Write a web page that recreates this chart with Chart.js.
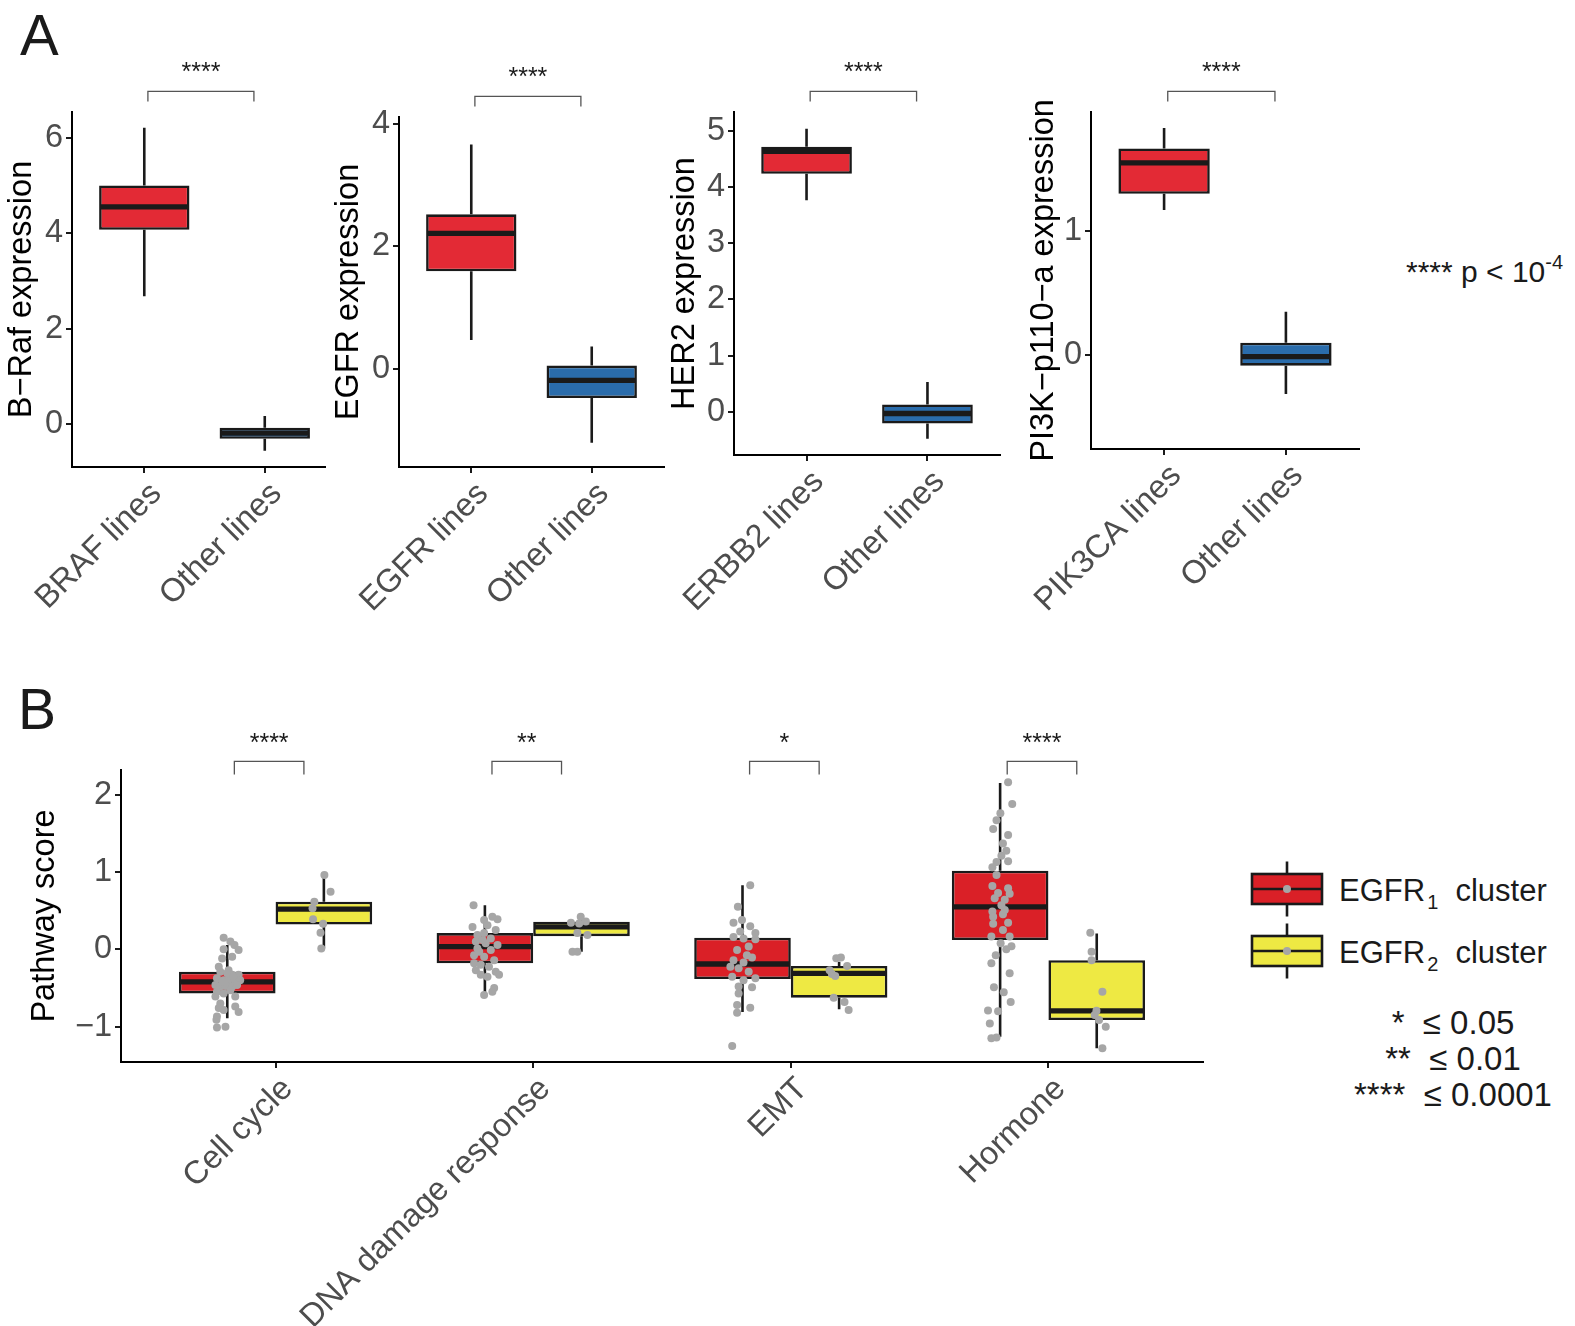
<!DOCTYPE html>
<html>
<head>
<meta charset="utf-8">
<script src="https://cdn.jsdelivr.net/npm/chart.js@4.4.1/dist/chart.umd.min.js"></script>
<style>
  body { margin: 0; background: #fff; }
  #fig { position: relative; width: 1575px; height: 1326px; overflow: hidden; font-family: 'Liberation Sans', Arial, sans-serif; }
  canvas { position: absolute; }
  .txt { position: absolute; line-height: 1; white-space: pre; color: #1a1a1a; }
  .sub { font-size: 20px; position: relative; top: 8px; margin-left: 2px; }
  .sup { font-size: 20px; position: relative; top: -13px; }
</style>
</head>
<body>
<div id="fig">
  <div class="txt" style="left:20px;top:6px;font-size:58px">A</div>
  <div class="txt" style="left:18px;top:681px;font-size:57px">B</div>
  <div class="txt" style="left:1406px;top:257px;font-size:30px">**** p &lt; 10<span class="sup">-4</span></div>
  <div class="txt" style="left:1339px;top:875px;font-size:31px">EGFR<span class="sub">1</span>  cluster</div>
  <div class="txt" style="left:1339px;top:937px;font-size:31px">EGFR<span class="sub">2</span>  cluster</div>
  <div class="txt" style="left:1303px;top:1005px;width:300px;text-align:center;font-size:33px;line-height:36px">*  ≤ 0.05
**  ≤ 0.01
****  ≤ 0.0001</div>
  <canvas id="a1"></canvas>
  <canvas id="a2"></canvas>
  <canvas id="a3"></canvas>
  <canvas id="a4"></canvas>
  <canvas id="b"></canvas>
</div>
<script>
// box stats: [lower whisker, Q1, median, Q3, upper whisker]
const brafLabels = ['BRAF lines', 'Other lines'];
const brafBoxes = [[2.68, 4.07, 4.55, 5.0, 6.21], [-0.56, -0.31, -0.19, -0.08, 0.17]];
const brafTicks = [0, 2, 4, 6];

const egfrLabels = ['EGFR lines', 'Other lines'];
const egfrBoxes = [[0.47, 1.59, 2.21, 2.52, 3.66], [-1.21, -0.48, -0.19, 0.05, 0.36]];
const egfrTicks = [0, 2, 4];

const erbb2Labels = ['ERBB2 lines', 'Other lines'];
const erbb2Boxes = [[3.76, 4.23, 4.63, 4.71, 5.03], [-0.48, -0.21, -0.03, 0.13, 0.53]];
const erbb2Ticks = [0, 1, 2, 3, 4, 5];

const pik3caLabels = ['PIK3CA lines', 'Other lines'];
const pik3caBoxes = [[1.17, 1.30, 1.55, 1.667, 1.833], [-0.32, -0.09, -0.016, 0.096, 0.346]];
const pik3caTicks = [0, 1];

const pathways = ['Cell cycle', 'DNA damage response', 'EMT', 'Hormone'];
const egfr1Boxes = [[-0.89, -0.57, -0.42, -0.29, 0.055], [-0.57, -0.18, 0.035, 0.21, 0.57],
                    [-0.81, -0.385, -0.19, 0.15, 0.83], [-1.13, 0.12, 0.55, 1.017, 2.15]];
const egfr2Boxes = [[0.015, 0.32, 0.52, 0.615, 0.96], [-0.03, 0.17, 0.29, 0.357, 0.42],
                    [-0.775, -0.625, -0.31, -0.215, -0.16], [-1.28, -0.915, -0.795, -0.14, 0.205]];
const scoreTicks = [-1, 0, 1, 2];
const pathwaySig = ['****', '**', '*', '****'];

// grey dots: [jitter, score]
const egfr1CellCycle = [[-0.014,0.15],[0.012,0.10],[0.028,0.055],[0.044,-0.01],[-0.014,0.0],[0.019,-0.095],[-0.02,-0.12],
  [-0.033,-0.225],[-0.027,-0.29],[0.005,-0.27],[0.019,-0.33],[0.044,-0.33],[-0.04,-0.375],[-0.014,-0.40],[0.005,-0.40],
  [0.031,-0.42],[0.05,-0.40],[-0.046,-0.46],[-0.027,-0.48],[-0.007,-0.475],[0.019,-0.48],[0.038,-0.46],[-0.04,-0.55],
  [-0.014,-0.57],[0.012,-0.53],[0.031,-0.61],[-0.046,-0.61],[-0.027,-0.70],[-0.033,-0.76],[-0.014,-0.785],[0.031,-0.74],
  [0.044,-0.81],[-0.04,-0.87],[-0.042,-0.91],[-0.04,-1.01],[-0.007,-1.0],[0.0,-0.31],[0.023,-0.35],[-0.02,-0.42]];
const egfr2CellCycle = [[0.002,0.96],[0.026,0.745],[-0.037,0.615],[-0.044,0.53],[-0.042,0.39],[-0.003,0.33],[-0.013,0.215],[-0.01,0.01]];
const egfr1Dna = [[-0.044,0.57],[-0.003,0.38],[0.029,0.42],[0.049,0.39],[-0.048,0.29],[0.01,0.31],[0.042,0.25],[-0.029,0.185],
  [-0.003,0.21],[0.023,0.14],[-0.035,0.10],[0.003,0.08],[0.049,0.055],[-0.029,0.01],[0.023,-0.01],[-0.042,-0.075],
  [-0.003,-0.095],[0.036,-0.14],[-0.042,-0.18],[-0.016,-0.20],[0.016,-0.225],[-0.035,-0.27],[0.042,-0.29],[-0.016,-0.33],
  [0.055,-0.33],[0.01,-0.355],[0.036,-0.50],[0.029,-0.55],[-0.003,-0.59],[-0.022,-0.03],[-0.009,0.12]];
const egfr2Dna = [[-0.041,0.345],[-0.003,0.42],[0.017,0.36],[-0.009,0.335],[-0.016,0.21],[0.023,0.185],[-0.035,-0.03],[-0.016,-0.03]];
const egfr1Emt = [[0.03,0.83],[-0.018,0.55],[-0.035,0.345],[-0.002,0.38],[0.03,0.30],[0.05,0.21],[-0.035,0.16],[0.004,0.14],
  [0.05,0.13],[0.024,0.035],[-0.021,-0.01],[0.037,-0.105],[-0.035,-0.14],[0.004,-0.17],[-0.047,-0.225],[-0.015,-0.245],
  [0.024,-0.29],[0.05,-0.375],[-0.04,-0.355],[0.004,-0.40],[-0.015,-0.48],[0.037,-0.49],[-0.015,-0.57],[-0.021,-0.72],
  [0.03,-0.755],[-0.021,-0.82],[-0.04,-1.25],[-0.009,0.23],[0.017,-0.075]];
const egfr2Emt = [[-0.011,-0.115],[0.007,-0.105],[0.031,-0.215],[-0.037,-0.27],[-0.028,-0.32],[-0.015,-0.345],[-0.021,-0.625],[0.021,-0.68],[0.037,-0.785]];
const egfr1Hormone = [[0.031,2.16],[0.047,1.88],[0.001,1.76],[-0.014,1.67],[-0.027,1.555],[0.031,1.48],[0.011,1.37],[0.024,1.275],
  [0.005,1.21],[0.031,1.14],[-0.014,1.13],[-0.03,1.06],[-0.014,0.96],[-0.03,0.82],[0.031,0.79],[-0.008,0.73],[0.037,0.72],
  [-0.021,0.66],[0.018,0.64],[0.005,0.57],[0.018,0.51],[-0.03,0.49],[-0.027,0.42],[0.011,0.455],[0.031,0.345],[-0.027,0.33],
  [0.011,0.25],[-0.034,0.165],[0.037,0.165],[0.002,0.08],[0.044,0.04],[0.024,0.0],[-0.017,-0.075],[-0.034,-0.18],[0.037,-0.31],
  [-0.024,-0.49],[0.014,-0.555],[0.041,-0.68],[-0.047,-0.79],[-0.008,-0.80],[-0.04,-0.96],[-0.034,-1.15],[-0.014,-1.14]];
const egfr2Hormone = [[-0.025,0.215],[-0.02,-0.03],[-0.02,-0.14],[0.022,-0.55],[-0.001,-0.795],[-0.008,-0.85],[0.009,-0.915],[0.035,-1.0],[0.022,-1.28]];
const egfr1Dots = [egfr1CellCycle, egfr1Dna, egfr1Emt, egfr1Hormone];
const egfr2Dots = [egfr2CellCycle, egfr2Dna, egfr2Emt, egfr2Hormone];

const RED_A = '#E32A35', BLUE = '#2A6CAB', RED_B = '#DA2027', YELLOW = '#EEE943';
const INK = '#1A1A1A', GREY = '#A6A6A6', TICK = '#4D4D4D';
const DODGE = 0.75;

Chart.defaults.font.family = "'Liberation Sans', Arial, sans-serif";

// whiskers + median on top of each floating bar (box)
const boxPlugin = {
  id: 'boxes',
  afterDatasetDraw(chart, args) {
    const ds = chart.data.datasets[args.index];
    if (!ds.stats) return;
    const y = chart.scales.y, ctx = chart.ctx;
    ctx.save();
    ctx.strokeStyle = INK;
    args.meta.data.forEach((bar, i) => {
      const s = ds.stats[i];
      const {x, width} = bar.getProps(['x', 'width'], true);
      ctx.lineWidth = 2.6;
      ctx.beginPath();
      ctx.moveTo(x, y.getPixelForValue(s[0])); ctx.lineTo(x, y.getPixelForValue(s[1]));
      ctx.moveTo(x, y.getPixelForValue(s[3])); ctx.lineTo(x, y.getPixelForValue(s[4]));
      ctx.stroke();
      const m = y.getPixelForValue(s[2]);
      ctx.lineWidth = 5.3;
      ctx.beginPath();
      ctx.moveTo(x - width / 2 + 1, m); ctx.lineTo(x + width / 2 - 1, m);
      ctx.stroke();
    });
    ctx.restore();
  }
};

// significance brackets above the panel
const sigPlugin = {
  id: 'sig',
  afterDraw(chart, args, o) {
    if (!o.marks) return;
    const x = chart.scales.x, top = chart.chartArea.top, ctx = chart.ctx;
    ctx.save();
    ctx.strokeStyle = '#555'; ctx.lineWidth = 1.3;
    ctx.fillStyle = INK; ctx.font = "25px 'Liberation Sans', Arial";
    ctx.textAlign = 'center'; ctx.textBaseline = 'middle';
    o.marks.forEach((mark, i) => {
      const x0 = x.getPixelForValue(i + 1 + o.from), x1 = x.getPixelForValue(i + 1 + o.to);
      ctx.beginPath();
      ctx.moveTo(x0, top + o.tip); ctx.lineTo(x0, top + o.bar);
      ctx.lineTo(x1, top + o.bar); ctx.lineTo(x1, top + o.tip);
      ctx.stroke();
      ctx.fillText(mark, (x0 + x1) / 2, top + o.text);
    });
    ctx.restore();
  }
};

// legend keys for panel B
const keyPlugin = {
  id: 'keys',
  afterDraw(chart, args, o) {
    if (!o.colors) return;
    const ctx = chart.ctx;
    ctx.save();
    o.colors.forEach((c, i) => {
      const cx = o.x, cy = o.ys[i];
      ctx.strokeStyle = INK; ctx.lineWidth = 2.6;
      ctx.beginPath();
      ctx.moveTo(cx, cy - 27.5); ctx.lineTo(cx, cy + 27.5);
      ctx.stroke();
      ctx.fillStyle = c;
      ctx.fillRect(cx - 35, cy - 15, 70, 30);
      ctx.strokeRect(cx - 35, cy - 15, 70, 30);
      ctx.beginPath();
      ctx.moveTo(cx - 35, cy); ctx.lineTo(cx + 35, cy);
      ctx.stroke();
      ctx.fillStyle = GREY;
      ctx.beginPath(); ctx.arc(cx, cy, 4, 0, Math.PI * 2); ctx.fill();
    });
    ctx.restore();
  }
};

function axisStyle() {
  return {
    grid: { drawOnChartArea: false, offset: false, tickLength: 6, color: INK, lineWidth: 2 },
    border: { color: '#000', width: 2 }
  };
}

// area = chart area on the page [x0, y0, x1, y1]; box = canvas [left, top, width, height]
function makeChart(id, area, box, labels, xMax, yMin, yMax, yTicks, yTitle, datasets, extra) {
  const cv = document.getElementById(id);
  cv.width = box[2]; cv.height = box[3];
  cv.style.left = box[0] + 'px'; cv.style.top = box[1] + 'px';
  const wy = area[0] - box[0], hx = box[1] + box[3] - area[3];
  const padTop = area[1] - box[1], padRight = box[0] + box[2] - area[2];
  return new Chart(cv, {
    type: 'bar',
    data: { datasets },
    options: {
      responsive: false, animation: false, events: [],
      layout: { padding: { left: 0, top: padTop, right: padRight, bottom: 0 } },
      plugins: Object.assign({ legend: { display: false }, tooltip: { enabled: false } }, extra),
      scales: {
        x: Object.assign(axisStyle(), {
          type: 'linear', offset: false, min: 0.4, max: xMax, bounds: 'data',
          afterFit: s => { s.height = hx; s.paddingLeft = 0; s.paddingRight = 0; },
          afterBuildTicks: s => { s.ticks = labels.map((l, i) => ({ value: i + 1 })); },
          ticks: { autoSkip: false, minRotation: 45, maxRotation: 45, padding: 2, labelOffset: 12, color: TICK,
                   font: { size: 32.5 }, callback: (v, i) => labels[i] }
        }),
        y: Object.assign(axisStyle(), {
          type: 'linear', min: yMin, max: yMax, bounds: 'data',
          afterFit: s => { s.width = wy; s.paddingTop = 0; s.paddingBottom = 0; },
          afterBuildTicks: s => { s.ticks = yTicks.map(v => ({ value: v })); },
          ticks: { padding: 3, color: TICK, font: { size: 32.5 }, callback: v => String(v).replace('-', '\u2212') },
          title: { display: true, text: yTitle, color: '#000', font: { size: 32.5 }, padding: { top: 3, bottom: 0 } }
        })
      }
    },
    plugins: [boxPlugin, sigPlugin, keyPlugin]
  });
}

function pairBoxes(boxes) {
  return [{
    data: boxes.map((b, i) => ({ x: i + 1, y: [b[1], b[3]] })),
    stats: boxes,
    backgroundColor: [RED_A, BLUE], borderColor: INK, borderWidth: 2.6, borderSkipped: false,
    categoryPercentage: DODGE, barPercentage: 1, order: 2
  }];
}

const sigA = { sig: { marks: ['****'], from: 0.03, to: 0.91, bar: -20.6, tip: -10.5, text: -39 } };

makeChart('a1', [72, 112, 325, 467], [0, 40, 332, 602], brafLabels, 2.5, -0.9, 6.54, brafTicks,
  'B\u2212Raf expression', pairBoxes(brafBoxes), sigA);
makeChart('a2', [399, 117, 664, 467], [327, 40, 345, 602], egfrLabels, 2.6, -1.605, 4.108, egfrTicks,
  'EGFR expression', pairBoxes(egfrBoxes), sigA);
makeChart('a3', [734, 112, 1000, 455], [663, 40, 345, 602], erbb2Labels, 2.6, -0.768, 5.33, erbb2Ticks,
  'HER2 expression', pairBoxes(erbb2Boxes), sigA);
makeChart('a4', [1091, 112, 1359, 449], [1022, 40, 345, 602], pik3caLabels, 2.6, -0.764, 1.962, pik3caTicks,
  'PI3K\u2212p110\u2212a expression', pairBoxes(pik3caBoxes), sigA);

function groupBoxes(boxes, color) {
  return {
    data: boxes.map((b, i) => ({ x: i + 1, y: [b[1], b[3]] })),
    stats: boxes,
    backgroundColor: color, borderColor: INK, borderWidth: 2.6, borderSkipped: false,
    categoryPercentage: DODGE, barPercentage: 1, order: 2
  };
}
function groupDots(dots, side) {
  const pts = [];
  dots.forEach((list, i) => list.forEach(p => pts.push({ x: i + 1 + side * DODGE / 4 + p[0], y: p[1] })));
  return { type: 'scatter', data: pts, pointRadius: 4, pointBorderWidth: 0,
           backgroundColor: GREY, borderColor: GREY, order: 1 };
}

const bBox = [23, 720, 1552, 606];
makeChart('b', [121, 770, 1203, 1062], bBox, pathways, 4.6, -1.457, 2.319, scoreTicks, 'Pathway score',
  [groupBoxes(egfr1Boxes, RED_B), groupBoxes(egfr2Boxes, YELLOW), groupDots(egfr1Dots, -1), groupDots(egfr2Dots, 1)],
  { sig: { marks: pathwaySig, from: -0.16, to: 0.11, bar: -8.6, tip: 4.5, text: -26 },
    keys: { colors: [RED_B, YELLOW], x: 1287 - bBox[0], ys: [889 - bBox[1], 951 - bBox[1]] } });
</script>
</body>
</html>
